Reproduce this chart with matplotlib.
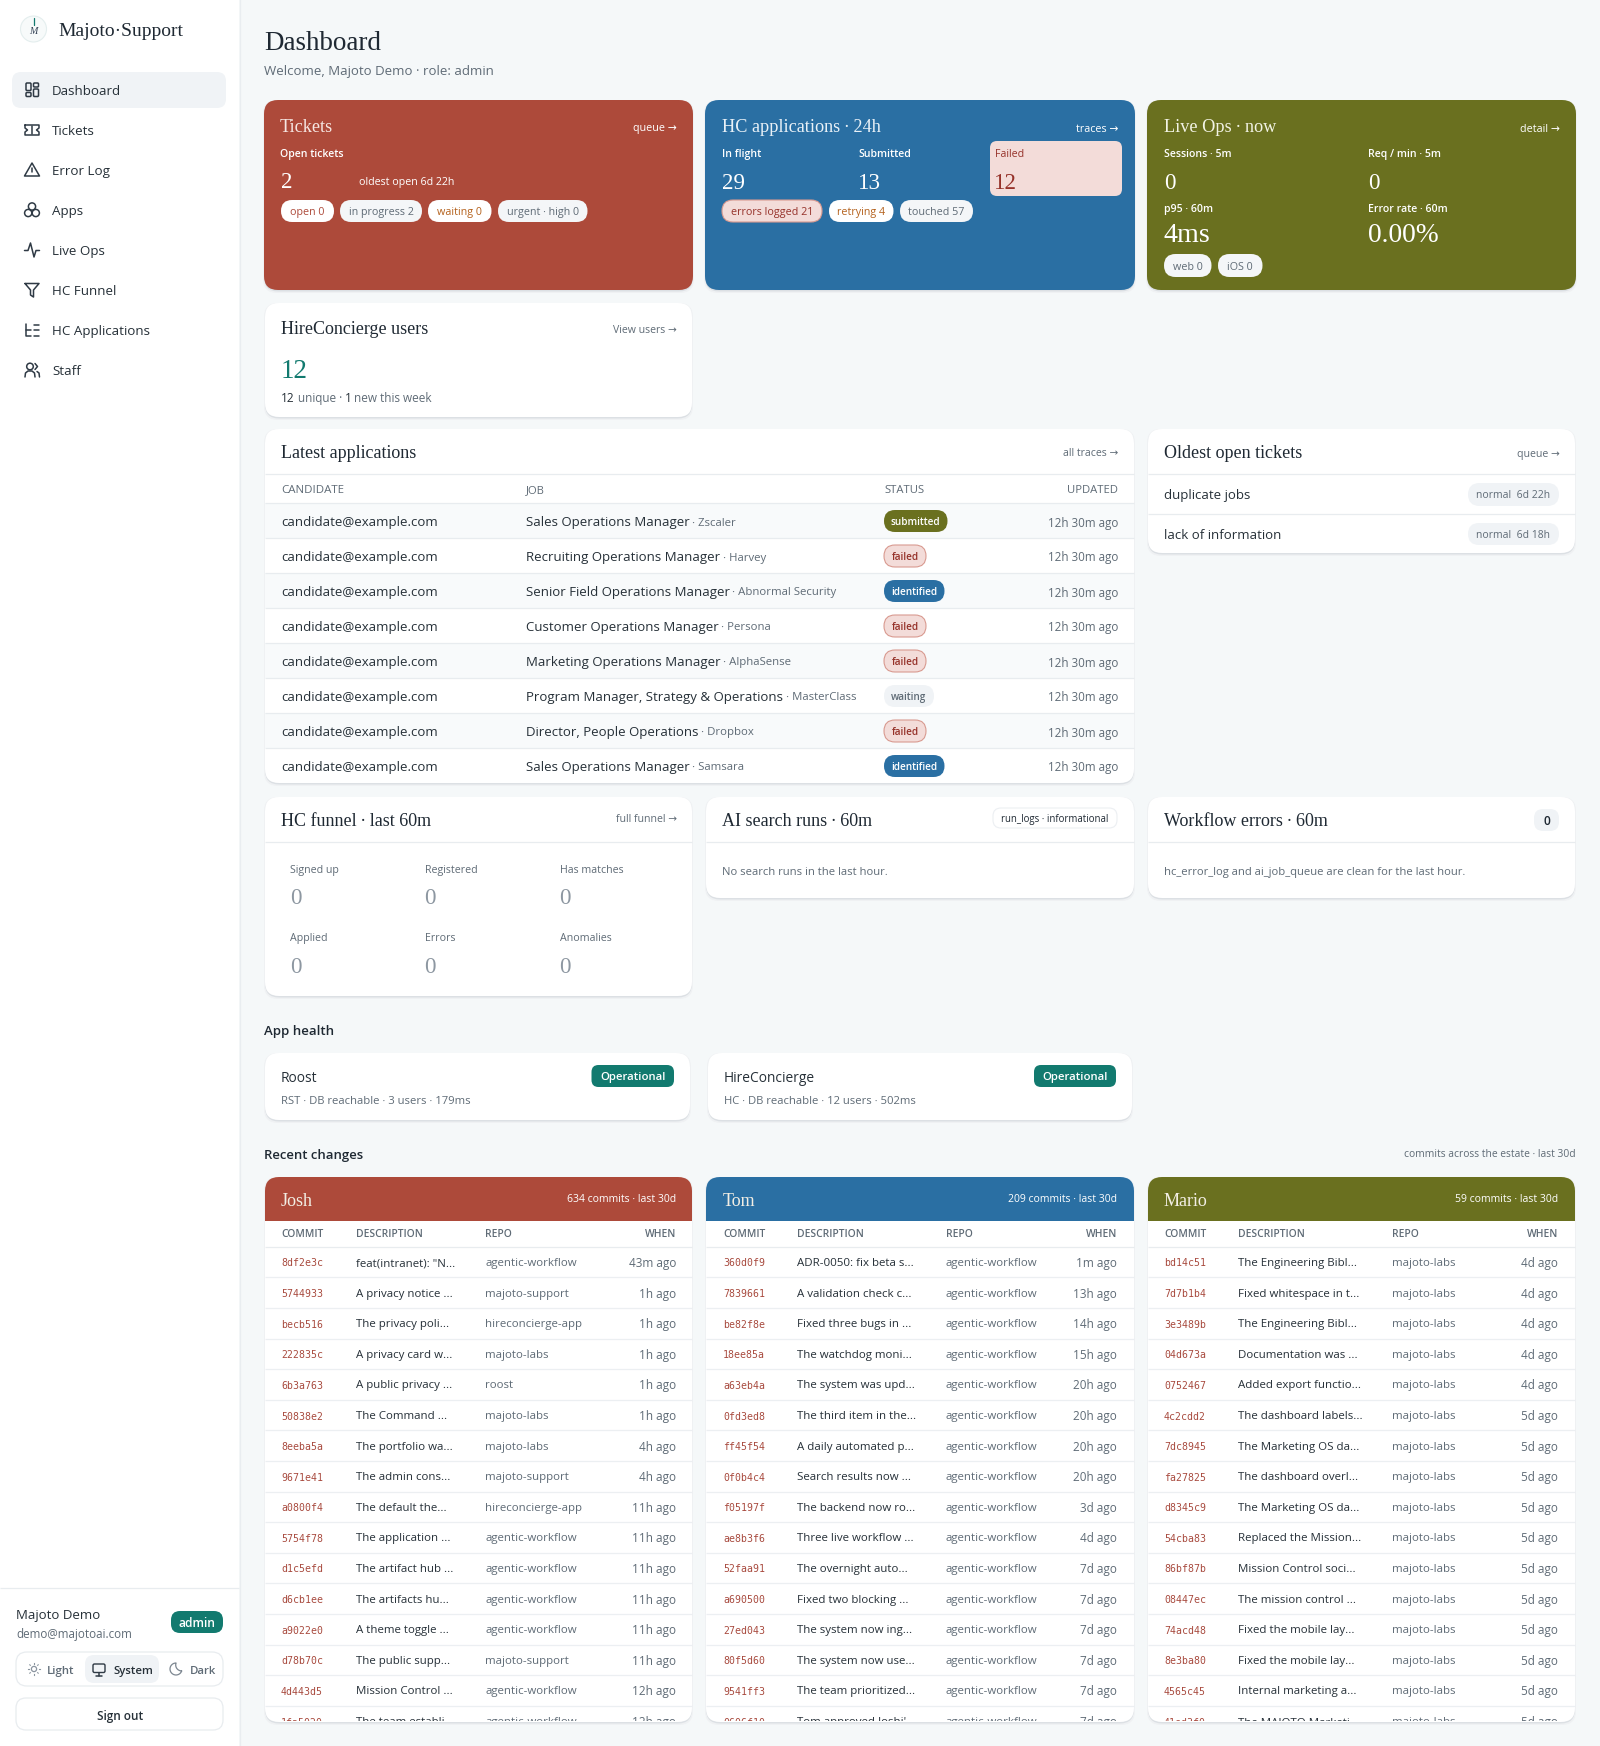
import math
import matplotlib
matplotlib.use("Agg")
import matplotlib.pyplot as plt
from matplotlib.patches import FancyBboxPatch, Circle, Rectangle, Polygon
from matplotlib.transforms import Bbox, TransformedBbox

W, H = 1600, 1746
SANS = ["Open Sans", "DejaVu Sans"]
SERIF = ["Liberation Serif", "DejaVu Serif"]
MONO = ["DejaVu Sans Mono"]

RED = "#ad4a3a"
BLUE = "#2a6fa3"
OLIVE = "#6a701f"
TEAL = "#127a6f"
INK = "#1f2933"
GREY = "#5f6b76"
LINE = "#e8ecef"
BG = "#f5f8f9"
DOT = "\u2009·\u2009"

# sidebar
nav_labels = ["Dashboard", "Tickets", "Error Log", "Apps", "Live Ops", "HC Funnel", "HC Applications", "Staff"]

# latest applications table
job_titles = ["Sales Operations Manager", "Recruiting Operations Manager", "Senior Field Operations Manager",
              "Customer Operations Manager", "Marketing Operations Manager",
              "Program Manager, Strategy & Operations", "Director, People Operations", "Sales Operations Manager"]
job_companies = ["Zscaler", "Harvey", "Abnormal Security", "Persona", "AlphaSense", "MasterClass", "Dropbox", "Samsara"]
job_status = ["submitted", "failed", "identified", "failed", "failed", "waiting", "failed", "identified"]

# funnel
funnel_labels = ["Signed up", "Registered", "Has matches", "Applied", "Errors", "Anomalies"]
funnel_values = [0, 0, 0, 0, 0, 0]

# commits, one set of lists per person
josh_commits = ["8df2e3c", "5744933", "becb516", "222835c", "6b3a763", "50838e2", "8eeba5a", "9671e41",
                "a0800f4", "5754f78", "d1c5efd", "d6cb1ee", "a9022e0", "d78b70c", "4d443d5", "1fa5020"]
josh_desc = ['feat(intranet): "N...', "A privacy notice ...", "The privacy poli...", "A privacy card w...",
             "A public privacy ...", "The Command ...", "The portfolio wa...", "The admin cons...",
             "The default the...", "The application ...", "The artifact hub ...", "The artifacts hu...",
             "A theme toggle ...", "The public supp...", "Mission Control ...", "The team establi..."]
josh_repo = ["agentic-workflow", "majoto-support", "hireconcierge-app", "majoto-labs", "roost", "majoto-labs",
             "majoto-labs", "majoto-support", "hireconcierge-app", "agentic-workflow", "agentic-workflow",
             "agentic-workflow", "agentic-workflow", "majoto-support", "agentic-workflow", "agentic-workflow"]
josh_when = ["43m ago", "1h ago", "1h ago", "1h ago", "1h ago", "1h ago", "4h ago", "4h ago",
             "11h ago", "11h ago", "11h ago", "11h ago", "11h ago", "11h ago", "12h ago", "12h ago"]

tom_commits = ["360d0f9", "7839661", "be82f8e", "18ee85a", "a63eb4a", "0fd3ed8", "ff45f54", "0f0b4c4",
               "f05197f", "ae8b3f6", "52faa91", "a690500", "27ed043", "80f5d60", "9541ff3", "0606f10"]
tom_desc = ["ADR-0050: fix beta s...", "A validation check c...", "Fixed three bugs in ...", "The watchdog moni...",
            "The system was upd...", "The third item in the...", "A daily automated p...", "Search results now ...",
            "The backend now ro...", "Three live workflow ...", "The overnight auto...", "Fixed two blocking ...",
            "The system now ing...", "The system now use...", "The team prioritized...", "Tom approved Joshi'..."]
tom_repo = ["agentic-workflow"] * 16
tom_when = ["1m ago", "13h ago", "14h ago", "15h ago", "20h ago", "20h ago", "20h ago", "20h ago",
            "3d ago", "4d ago", "7d ago", "7d ago", "7d ago", "7d ago", "7d ago", "7d ago"]

mario_commits = ["bd14c51", "7d7b1b4", "3e3489b", "04d673a", "0752467", "4c2cdd2", "7dc8945", "fa27825",
                 "d8345c9", "54cba83", "86bf87b", "08447ec", "74acd48", "8e3ba80", "4565c45", "41ed3f0"]
mario_desc = ["The Engineering Bibl...", "Fixed whitespace in t...", "The Engineering Bibl...", "Documentation was ...",
              "Added export functio...", "The dashboard labels...", "The Marketing OS da...", "The dashboard overl...",
              "The Marketing OS da...", "Replaced the Mission...", "Mission Control soci...", "The mission control ...",
              "Fixed the mobile lay...", "Fixed the mobile lay...", "Internal marketing a...", "The MAJOTO Marketi..."]
mario_repo = ["majoto-labs"] * 16
mario_when = ["4d ago", "4d ago", "4d ago", "4d ago", "4d ago", "5d ago", "5d ago", "5d ago",
              "5d ago", "5d ago", "5d ago", "5d ago", "5d ago", "5d ago", "5d ago", "5d ago"]

fig = plt.figure(figsize=(W / 100, H / 100), dpi=100, facecolor=BG)
ax = fig.add_axes([0, 0, 1, 1])
ax.set_xlim(0, W)
ax.set_ylim(H, 0)
ax.axis("off")


def put(x, y, s, px, color=INK, ha="left", weight="normal", family=None, clip=None, z=5):
    t = ax.text(x, y, s, fontsize=px * 0.72, color=color, ha=ha, va="center_baseline",
                fontweight=weight, family=family or SANS, zorder=z)
    if clip is not None:
        # agg ignores clip paths on text, only the clip box works here
        t.set_clip_box(clip)
        t.set_clip_on(True)
    return t


def box(x0, y0, x1, y1, r, color, edge="none", lw=0.0, z=2):
    p = FancyBboxPatch((x0, y0), x1 - x0, y1 - y0, boxstyle=f"round,pad=0,rounding_size={r}",
                       facecolor=color, edgecolor=edge, linewidth=lw, zorder=z)
    ax.add_patch(p)
    return p


def card(x0, y0, x1, y1, color="white", r=14):
    # soft shadow under every card
    box(x0 - 1, y0, x1 + 1, y1 + 3, r, "#eff1f3", z=1)
    box(x0, y0 + 1, x1, y1 + 1.5, r, "#dce0e4", z=1)
    return box(x0, y0, x1, y1, r, color, z=2)


def hline(x0, x1, y, color=LINE, lw=1.0, z=3):
    ax.plot([x0, x1], [y, y], color=color, lw=lw * 0.9, solid_capstyle="butt", zorder=z)


def pill(x0, x1, y0, y1, color, text, tcolor, px=10.8, edge="none", weight="normal", r=None):
    box(x0, y0, x1, y1, r if r is not None else (y1 - y0) / 2, color, edge=edge, lw=0.8 if edge != "none" else 0, z=4)
    put((x0 + x1) / 2, (y0 + y1) / 2, text, px, tcolor, ha="center", weight=weight)


def stroke(xs, ys, color="#2f3a45", lw=1.1):
    ax.plot(xs, ys, color=color, lw=lw, solid_capstyle="round", solid_joinstyle="round", zorder=6)


def nav_icon(i, cx, cy, c="#2f3a45"):
    s = dict(facecolor="none", edgecolor=c, linewidth=1.1, zorder=6)
    if i == 0:
        box(cx - 6, cy - 7, cx - 1, cy + 0.5, 1, "none", edge=c, lw=1.1, z=6)
        box(cx + 1.5, cy - 7, cx + 6.5, cy - 3, 1, "none", edge=c, lw=1.1, z=6)
        box(cx + 1.5, cy - 1, cx + 6.5, cy + 6.5, 1, "none", edge=c, lw=1.1, z=6)
        box(cx - 6, cy + 2.5, cx - 1, cy + 6.5, 1, "none", edge=c, lw=1.1, z=6)
    elif i == 1:
        stroke([cx - 7, cx + 7, cx + 7, cx + 4.5, cx + 7, cx + 7, cx - 7, cx - 7, cx - 4.5, cx - 7, cx - 7],
               [cy - 5, cy - 5, cy - 2, cy, cy + 2, cy + 5, cy + 5, cy + 2, cy, cy - 2, cy - 5], c)
        stroke([cx, cx], [cy - 4, cy + 4], c)
    elif i == 2:
        ax.add_patch(Polygon([[cx, cy - 7], [cx + 7.5, cy + 6], [cx - 7.5, cy + 6]], closed=True, joinstyle="round", **s))
        stroke([cx, cx], [cy - 2.5, cy + 1.5], c)
        stroke([cx, cx], [cy + 3.5, cy + 3.7], c)
    elif i == 3:
        for dx, dy in [(0, -3.5), (-3.8, 3), (3.8, 3)]:
            ax.add_patch(Circle((cx + dx, cy + dy), 3.6, **s))
    elif i == 4:
        stroke([cx - 7.5, cx - 4, cx - 1.5, cx + 2, cx + 4, cx + 7.5],
               [cy + 0.5, cy + 0.5, cy - 7, cy + 7, cy + 0.5, cy + 0.5], c)
    elif i == 5:
        stroke([cx - 7, cx + 7, cx + 1.5, cx + 1.5, cx - 1.5, cx - 1.5, cx - 7],
               [cy - 6.5, cy - 6.5, cy, cy + 7, cy + 5, cy, cy - 6.5], c)
    elif i == 6:
        stroke([cx - 6, cx - 6, cx - 1], [cy - 6, cy + 6, cy + 6], c)
        stroke([cx - 6, cx - 1], [cy, cy], c)
        for yy in (-5.5, 0, 5.5):
            stroke([cx + 1.5, cx + 6.5], [cy + yy, cy + yy], c)
    else:
        ax.add_patch(Circle((cx - 2, cy - 3.5), 3.3, **s))
        stroke([cx - 7, cx - 6.5, cx - 4, cx, cx + 2.5, cx + 3], [cy + 7, cy + 3, cy + 1, cy + 1, cy + 3, cy + 7], c)
        stroke([cx + 3, cx + 5.5, cx + 3], [cy - 6.5, cy - 3.5, cy - 0.5], c)
        stroke([cx + 5, cx + 7, cx + 7.5], [cy + 1.5, cy + 3, cy + 7], c)


def moon(cx, cy, c):
    # crescent: outer arc one way, inner arc back
    outer = [(cx + 6 * math.cos(math.radians(a)), cy + 6 * math.sin(math.radians(a))) for a in range(20, 271, 10)]
    inner = [(cx + 5.6 + 5.9 * math.cos(math.radians(a)), cy - 4 + 5.9 * math.sin(math.radians(a))) for a in range(200, 89, -10)]
    pts = outer + inner + outer[:1]
    stroke([p[0] for p in pts], [p[1] for p in pts], c, 0.9)


def small_card_head(x0, x1, y, title, link, link_dy=0.5):
    put(x0 + 16, y, title, 18, INK, family=SERIF)
    if link:
        put(x1 - 15.5, y + link_dy, link, 10.5, GREY, ha="right")


# sidebar
ax.add_patch(Rectangle((0, 0), 239, H, facecolor="white", edgecolor="none", zorder=0.5))
ax.plot([239.5, 239.5], [0, H], color="#e9edf0", lw=0.9, zorder=0.6)
ax.add_patch(Circle((33.5, 29), 13, facecolor="#f7fafa", edgecolor="#e4eeee", lw=0.8, zorder=2))
stroke([33.5, 33.5], [18, 25], TEAL, 0.9)
put(33.5, 30, "M", 10, "#334155", ha="center", family=SERIF)
ax.texts[-1].set_fontstyle("italic")
put(58, 29, "Majoto·Support", 19.5, INK, family=SERIF)

box(12, 72, 226, 108, 9, "#f0f3f6", z=1)
for i, label in enumerate(nav_labels):
    yy = 90 + 40 * i
    nav_icon(i, 32, yy)
    put(52, yy, label, 13.4, "#263038")

hline(0, 239, 1587.5)
put(16, 1614, "Majoto Demo", 13.3, "#263038")
put(16, 1633, "demo@majotoai.com", 11.6, GREY)
pill(171, 223, 1611, 1633, TEAL, "admin", "white", 12, weight="semibold", r=9)
box(16, 1652, 223, 1686, 11, "white", edge="#e8ecef", lw=0.9, z=2)
box(85, 1655, 159, 1683, 9, "#f0f3f6", z=3)
# theme toggle icons
ax.add_patch(Circle((34, 1669), 2.6, facecolor="none", edgecolor="#8b95a0", lw=0.9, zorder=6))
for dx, dy in [(5.5, 0), (-5.5, 0), (0, 5.5), (0, -5.5), (4, 4), (-4, 4), (4, -4), (-4, -4)]:
    ax.plot([34 + dx * 0.92, 34 + dx * 1.05], [1669 + dy * 0.92, 1669 + dy * 1.05], color="#8b95a0", lw=0.8, zorder=6)
put(47, 1670, "Light", 11.4, GREY, weight="semibold")
box(93, 1664, 105, 1672.5, 1.5, "none", edge="#2f3a45", lw=1.0, z=6)
stroke([96, 102], [1675.5, 1675.5])
stroke([99, 99], [1672.5, 1675.5])
put(113, 1670, "System", 11.4, "#263038", weight="semibold")
moon(176, 1669, "#7d8791")
put(190, 1670, "Dark", 11.4, GREY, weight="semibold")
box(16, 1698, 223, 1730, 10, "white", edge="#e8ecef", lw=0.9, z=2)
put(120, 1715, "Sign out", 11.7, "#263038", ha="center", weight="semibold")

# page heading
put(264, 41, "Dashboard", 27, INK, family=SERIF)
put(264, 70, "Welcome, Majoto Demo · role: admin", 13.3, GREY)

# Tickets
card(264, 100, 693, 290, RED)
put(280, 125, "Tickets", 18.3, "#f6e6e2", family=SERIF)
put(677, 127.5, "queue →", 10.8, "white", ha="right")
put(280, 153, "Open tickets", 10.5, "white", weight="semibold")
put(281, 180, "2", 23, "white", family=SERIF)
put(359, 181, "oldest open 6d 22h", 10.6, "white", weight="medium")
pill(281, 334, 200, 222, "white", "open 0", RED)
pill(340, 422, 200, 222, "#f4f6f8", "in progress 2", GREY)
pill(428, 491.5, 200, 222, "white", "waiting 0", "#b4611c")
pill(498, 587.5, 200, 222, "#f4f6f8", "urgent · high 0", GREY)

# HC applications
card(705, 100, 1135, 290, BLUE)
put(722, 125, "HC applications" + DOT + "24h", 18.3, "#e9f1f7", family=SERIF)
put(1118, 127.5, "traces →", 10.8, "white", ha="right")
put(722, 153, "In flight", 10.5, "white", weight="semibold")
put(858, 153, "Submitted", 10.5, "white", weight="semibold")
put(722, 181, "29", 23, "white", family=SERIF)
put(858, 181, "13", 23, "white", family=SERIF)
box(990, 141, 1122, 196, 7, "#f3dcd9", z=3)
put(994.5, 153, "Failed", 10.6, "#96322a", weight="medium")
put(994, 181, "12", 23, "#96322a", family=SERIF)
pill(722, 822, 200, 222, "#f3dcd9", "errors logged 21", "#96322a", edge="#d99a90")
pill(829, 893.5, 200, 222, "white", "retrying 4", "#b4611c")
pill(900, 973, 200, 222, "#f4f6f8", "touched 57", GREY)

# Live Ops
card(1147, 100, 1576, 290, OLIVE)
put(1164, 125, "Live Ops" + DOT + "now", 18.3, "#f2f3e4", family=SERIF)
put(1560, 127.5, "detail →", 10.8, "white", ha="right")
put(1164, 153, "Sessions · 5m", 10.5, "white", weight="semibold")
put(1368, 153, "Req / min · 5m", 10.5, "white", weight="semibold")
put(1164, 181, "0", 23, "white", family=SERIF)
put(1368, 181, "0", 23, "white", family=SERIF)
put(1164, 208, "p95 · 60m", 10.5, "white", weight="semibold")
put(1368, 208, "Error rate · 60m", 10.5, "white", weight="semibold")
put(1164, 233, "4ms", 28, "white", family=SERIF)
put(1368, 233, "0.00%", 27.5, "white", family=SERIF)
pill(1164, 1211.5, 254, 277, "#f4f6f8", "web 0", GREY)
pill(1218, 1262.5, 254, 277, "#f4f6f8", "iOS 0", GREY)

# HireConcierge users
card(265, 303, 692, 417)
small_card_head(265, 692, 327, "HireConcierge users", "View users →", link_dy=2)
put(281, 369, "12", 27, TEAL, family=SERIF)
put(281, 397, "12", 11.8, "#263038", weight="medium")
put(298, 397, "unique ·", 11.8, GREY)
put(344.5, 397, "1", 11.8, "#263038", weight="medium")
put(353.5, 397, "new this week", 11.8, GREY)

# latest applications
card(265, 429, 1134, 783)
small_card_head(265, 1134, 452, "Latest applications", "all traces →")
hline(265, 1134, 474)
put(281, 489, "CANDIDATE", 11.5, GREY)
put(525.5, 489, "JOB", 11.3, GREY)
put(884, 489, "STATUS", 11.3, GREY)
put(1118, 489, "UPDATED", 11.3, GREY, ha="right")
hline(265, 1134, 503)

status_style = {
    "submitted": (947.5, OLIVE, "white", "none"),
    "failed": (926, "#f3dcd9", "#96322a", "#d99a90"),
    "identified": (944.5, BLUE, "white", "none"),
    "waiting": (934, "#f0f3f6", GREY, "none"),
}
rend = fig.canvas.get_renderer()
for i in range(len(job_titles)):
    top = 503 + 35 * i
    yy = top + 18
    if i % 2 == 0:
        ax.add_patch(Rectangle((265, top), 869, 35, facecolor="#f8fafb", edgecolor="none", zorder=2.5))
    if i > 0:
        hline(265, 1134, top)
    put(281, yy, "candidate@example.com", 13.25, "#263038")
    t = put(525.5, yy, job_titles[i], 13.25, "#263038")
    bb = t.get_window_extent(rend)
    put(bb.x1 + 3, yy + 0.5, "· " + job_companies[i], 11.4, GREY)
    x1, col, tc, ed = status_style[job_status[i]]
    pill(884, x1, yy - 11, yy + 11, col, job_status[i], tc, 10, edge=ed, weight="semibold")
    put(1118, yy + 0.5, "12h 30m ago", 11.6, GREY, ha="right")

# oldest open tickets
card(1148, 429, 1575, 553)
small_card_head(1148, 1575, 452, "Oldest open tickets", "queue →")
hline(1148, 1575, 474)
hline(1148, 1575, 514)
put(1164, 494, "duplicate jobs", 13.25, "#263038")
put(1164, 534, "lack of information", 13.25, "#263038")
pill(1468, 1559, 483, 506, "#f0f3f6", "normal  6d 22h", GREY, 10.4)
pill(1468, 1559, 523, 545, "#f0f3f6", "normal  6d 18h", GREY, 10.4)

# funnel
card(265, 797, 692, 996)
small_card_head(265, 692, 819, "HC funnel" + DOT + "last 60m", "full funnel →", link_dy=-0.5)
hline(265, 692, 842)
fx = [290, 424.5, 559.5]
for i, label in enumerate(funnel_labels):
    col = i % 3
    row = i // 3
    put(fx[col], 869 + 68 * row, label, 10.6, GREY)
    put(fx[col], 896 + 69 * row, str(funnel_values[i]), 23, "#8d97a1", family=SERIF)

# AI search
card(706, 797, 1134, 898)
small_card_head(706, 1134, 819, "AI search runs" + DOT + "60m", None)
hline(706, 1134, 842)
pill(993, 1117, 808, 828, "white", "run_logs · informational", INK, 9.7, edge="#eceff2", weight="medium", r=8)
put(722, 871, "No search runs in the last hour.", 11.2, GREY)

# workflow errors
card(1148, 797, 1575, 898)
small_card_head(1148, 1575, 819, "Workflow errors" + DOT + "60m", None)
hline(1148, 1575, 842)
pill(1534, 1559, 809, 831, "#f0f3f6", "0", INK, 12, weight="semibold", r=9)
put(1164, 871, "hc_error_log and ai_job_queue are clean for the last hour.", 11.3, GREY)

# app health
put(264, 1030, "App health", 13.3, INK, weight="semibold")
card(265, 1053, 690, 1120)
put(281, 1076, "Roost", 13.7, "#263038", weight="medium")
put(281, 1100, "RST · DB reachable · 3 users · 179ms", 11.3, GREY)
pill(591.5, 674, 1065, 1087, TEAL, "Operational", "white", 11.4, weight="semibold", r=7)
card(708, 1053, 1132, 1120)
put(724, 1076, "HireConcierge", 13.7, "#263038", weight="medium")
put(724, 1100, "HC · DB reachable · 12 users · 502ms", 11.3, GREY)
pill(1034, 1116, 1065, 1087, TEAL, "Operational", "white", 11.4, weight="semibold", r=7)

# recent changes
put(264, 1154, "Recent changes", 13.1, INK, weight="semibold")
put(1576, 1153, "commits across the estate · last 30d", 10.2, GREY, ha="right")

team_frames = [
    (265, 692, 281, 356, 485, 676, RED, "Josh", "634 commits · last 30d", josh_commits, josh_desc, josh_repo, josh_when),
    (706, 1134, 723, 797, 946, 1117, BLUE, "Tom", "209 commits · last 30d", tom_commits, tom_desc, tom_repo, tom_when),
    (1148, 1575, 1164, 1238, 1392, 1558, OLIVE, "Mario", "59 commits · last 30d", mario_commits, mario_desc, mario_repo, mario_when),
]
for x0, x1, xc, xd, xr, xw, color, name, note, commits, descs, repos, whens in team_frames:
    p = card(x0, 1177, x1, 1722)
    head = Rectangle((x0, 1177), x1 - x0, 44, facecolor=color, edgecolor="none", zorder=3)
    ax.add_patch(head)
    head.set_clip_path(p)
    put(xc, 1199, name, 18, "#f2eee4", family=SERIF)
    put(xw, 1198, note, 10.4, "white", ha="right")
    put(xc, 1233, "COMMIT", 10.3, GREY, weight="semibold")
    put(xd, 1233, "DESCRIPTION", 10.3, GREY, weight="semibold")
    put(xr, 1233, "REPO", 10.3, GREY, weight="semibold")
    put(xw, 1233, "WHEN", 10.3, GREY, weight="semibold", ha="right")
    hline(x0, x1, 1247)
    cut = TransformedBbox(Bbox([[x0, 1177], [x1, 1720.5]]), ax.transData)
    for i in range(len(commits)):
        yy = 1262 + 30.6 * i
        if i < len(commits) - 1:
            hline(x0, x1, yy + 15.3, color="#eceff2")
        put(xc, yy + 0.5, commits[i], 9.9, "#a84a3e", family=MONO, clip=cut)
        put(xd, yy, descs[i], 11.5, "#263038", clip=cut)
        put(xr, yy, repos[i], 11.5, GREY, clip=cut)
        put(xw, yy, whens[i], 11.8, GREY, ha="right", clip=cut)

fig.savefig("out.png", dpi=100, facecolor=BG)
